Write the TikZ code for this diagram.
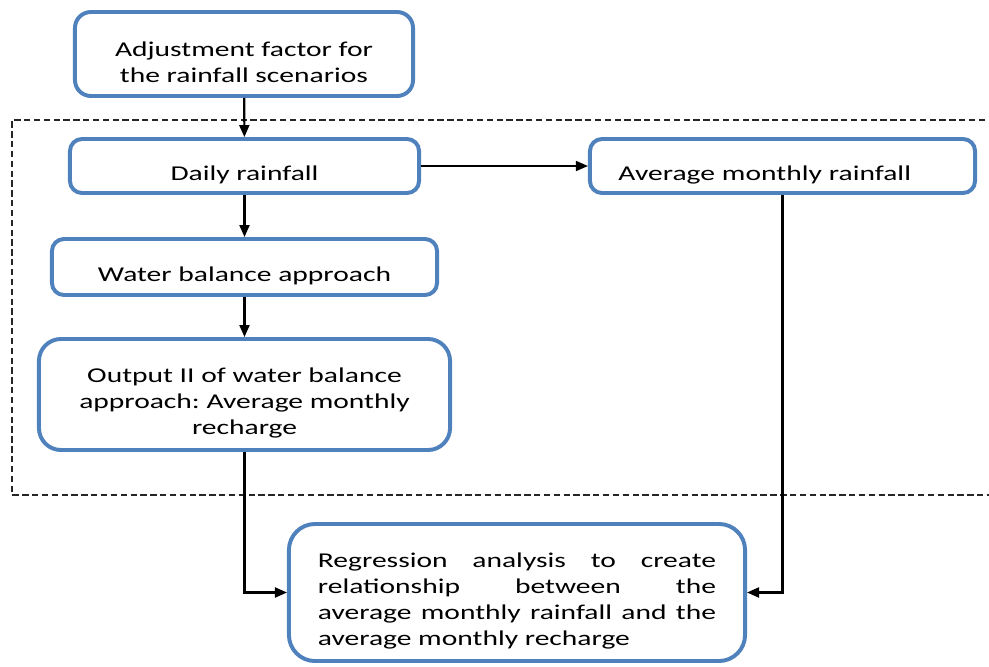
\documentclass[tikz,border=0pt]{standalone}
\usepackage{fontspec}
\setmainfont{Carlito}[FakeStretch=1.4]
\usepackage{tikz}
\usetikzlibrary{arrows.meta,positioning}
\definecolor{boxblue}{HTML}{4F81BD}
\newcommand{\lowr}{\rule{0pt}{0.8cm}}

\begin{document}
\frenchspacing
\begin{tikzpicture}[x=0.025cm,y=-0.025cm,
  font=\fontsize{15}{18.5}\selectfont,
  blk/.style={draw=boxblue,line width=2.8pt,rounded corners=0.3cm,fill=white,align=center,inner sep=2pt},
  link/.style={line width=1.5pt,-{Triangle[length=0.3cm,width=0.25cm]}}]
  \useasboundingbox (0,0) rectangle (989,666);
  % dashed frame round the monthly part
  \draw[black!85,line width=0.8pt,dash pattern=on 4.5pt off 2.5pt] (995,120) -- (12,120) -- (12,495) -- (995,495);
  \node[blk,minimum width=8.45cm,minimum height=2.1cm,rounded corners=0.4cm] (adj) at (244,54) {\lowr Adjustment factor for\\the rainfall scenarios};
  \node[blk,minimum width=8.725cm,minimum height=1.35cm] (daily) at (244.5,166) {\lowr Daily rainfall};
  \node[blk,minimum width=9.625cm,minimum height=1.35cm,text width=8.2cm,align=left,inner xsep=0.7cm] (amr) at (782.5,166) {\lowr Average monthly rainfall};
  \node[blk,minimum width=9.625cm,minimum height=1.4cm] (wba) at (244.5,267) {\lowr Water balance approach};
  \node[blk,minimum width=10.275cm,minimum height=2.775cm,rounded corners=0.55cm] (out) at (244.5,394.5) {\lowr Output II of water balance\\approach: Average monthly\\recharge};
  \node[blk,minimum width=11.4cm,minimum height=3.425cm,rounded corners=0.65cm,text width=9.95cm,align=justify] (reg) at (517,592.5) {\lowr Regression analysis to create\linebreak relationship between the\linebreak average monthly rainfall and the\linebreak average monthly recharge};
  \draw[link] (adj) -- (daily);
  \draw[link] (daily) -- (wba);
  \draw[link] (wba) -- (out);
  \draw[link,line width=1.1pt] (daily.east) -- (amr.west);
  \draw[link] (amr.south) |- (reg.east);
  \draw[link] (out.south) |- (reg.west);
\end{tikzpicture}
\end{document}
